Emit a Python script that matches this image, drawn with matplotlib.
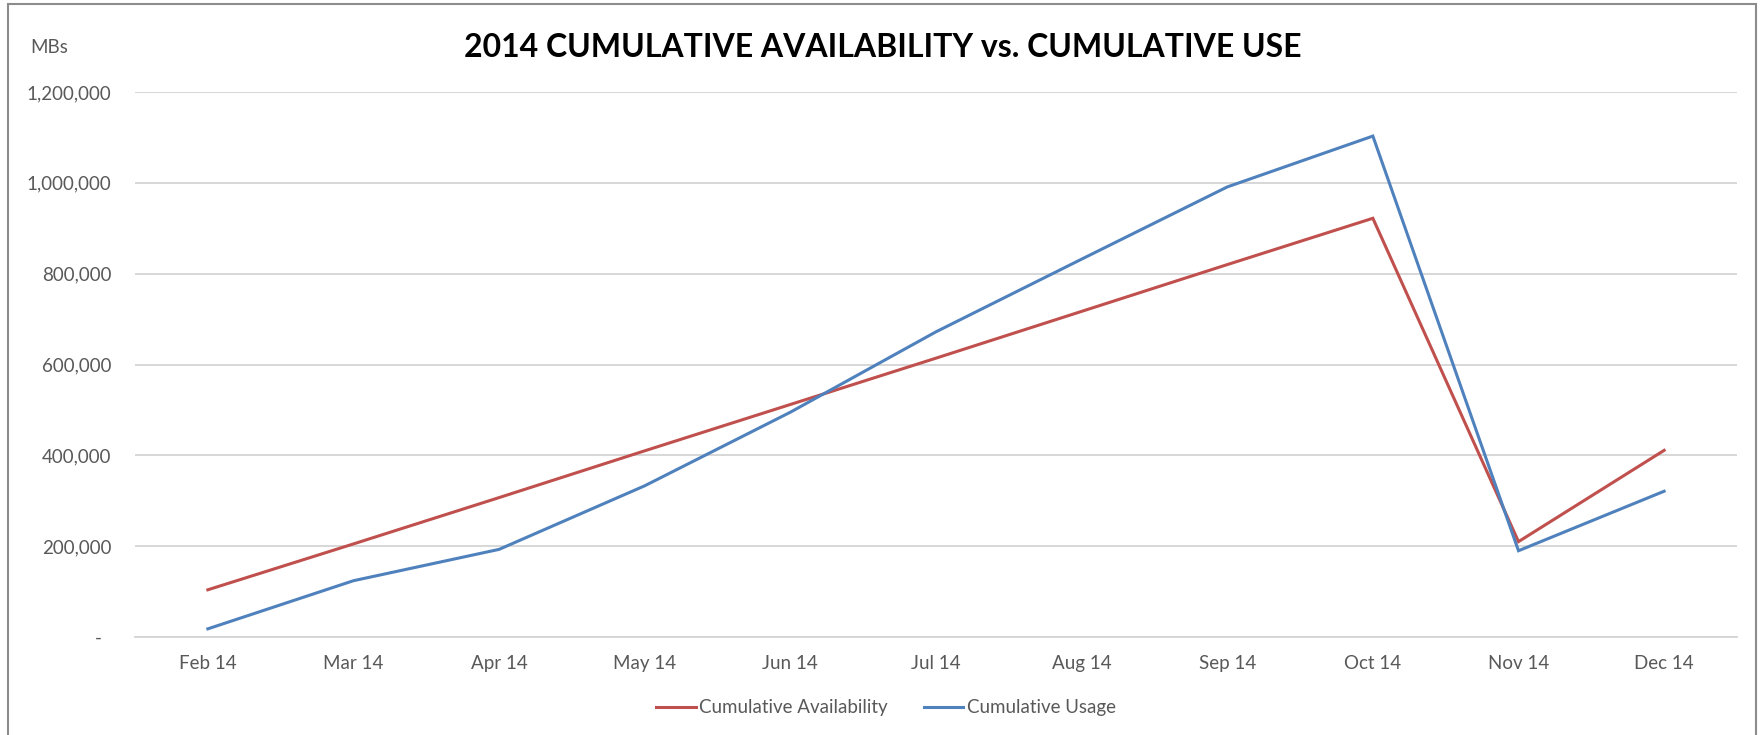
import matplotlib
matplotlib.use("Agg")
import matplotlib.pyplot as plt
from matplotlib.patches import Rectangle
from matplotlib.ticker import FuncFormatter

# Data
months = ['Feb 14', 'Mar 14', 'Apr 14', 'May 14', 'Jun 14', 'Jul 14',
          'Aug 14', 'Sep 14', 'Oct 14', 'Nov 14', 'Dec 14']
availability = [104000, 205000, 307000, 410000, 512000, 614000,
                717000, 820000, 922000, 210000, 411000]
usage = [18000, 124000, 193000, 333000, 495000, 672000,
         832000, 991000, 1103000, 190000, 321000]
y_ticks = [0, 200000, 400000, 600000, 800000, 1000000, 1200000]

plt.rcParams['font.family'] = ['Lato', 'DejaVu Sans']

RED = '#C0504D'
BLUE = '#4F81BD'
TEXT = '#595959'
GRID = '#D4D4D4'
FS = 13.5


def accounting_fmt(val, pos):
    # Excel accounting style: zero shows as a dash
    if val == 0:
        return '-  '
    return f'{int(val):,}'


def plot_chart():
    fig = plt.figure(figsize=(17.65, 7.35), dpi=100)
    ax = fig.add_axes([0.0765, 0.1333, 0.9076, 0.7415])

    x = list(range(len(months)))
    ax.plot(x, availability, color=RED, lw=2.2, label='Cumulative Availability',
            solid_joinstyle='miter', zorder=3)
    ax.plot(x, usage, color=BLUE, lw=2.2, label='Cumulative Usage',
            solid_joinstyle='miter', zorder=3)

    ax.set_xlim(-0.5, len(months) - 0.5)
    ax.set_ylim(0, 1200000)
    ax.set_xticks(x)
    ax.set_xticklabels(months)
    ax.set_yticks(y_ticks)
    ax.yaxis.set_major_formatter(FuncFormatter(accounting_fmt))

    # Gridlines only, no box
    ax.grid(axis='y', color=GRID, lw=1.3)
    ax.set_axisbelow(True)
    for side in ['top', 'right', 'left']:
        ax.spines[side].set_visible(False)
    ax.spines['bottom'].set_color(GRID)
    ax.spines['bottom'].set_linewidth(1.3)
    ax.tick_params(axis='both', length=0, labelsize=FS, colors=TEXT)
    ax.tick_params(axis='y', pad=17)
    ax.tick_params(axis='x', pad=13)

    # Title and unit label
    fig.text(0.5, 0.936, '2014 CUMULATIVE AVAILABILITY vs. CUMULATIVE USE',
             ha='center', va='center', fontsize=23, fontweight='bold', color='black')
    fig.text(0.017, 0.936, 'MBs', ha='left', va='center', fontsize=FS, color=TEXT)

    leg = fig.legend(loc='center', bbox_to_anchor=(0.502, 0.037), ncol=2,
                     frameon=False, fontsize=FS, handlelength=2.1,
                     handletextpad=0.2, columnspacing=1.9)
    for t in leg.get_texts():
        t.set_color(TEXT)

    # Outer chart frame
    fig.patches.append(Rectangle((0.0045, -0.05), 0.9905, 1.045, transform=fig.transFigure,
                                 fill=False, edgecolor='#8C8C8C', lw=1.5))

    fig.savefig('out.png', dpi=100)
    plt.close(fig)


plot_chart()
